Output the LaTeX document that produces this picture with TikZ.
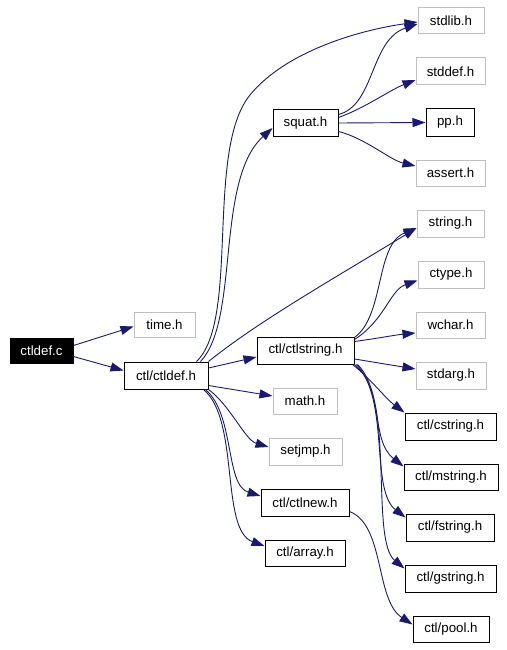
\documentclass[tikz,border=0pt]{standalone}
\usepackage{fontspec}
\setmainfont{Liberation Sans}
\usetikzlibrary{arrows.meta}
\definecolor{edgecol}{HTML}{191970}
\definecolor{graybox}{HTML}{BFBFBF}
\tikzset{
  box/.style={draw=black, line width=1pt, fill=white, inner sep=0pt, font=\fontsize{13.3}{15}\selectfont, text=black},
  gbox/.style={box, draw=graybox},
  rootbox/.style={box, fill=black, text=white},
  dep/.style={draw=edgecol, line width=0.9pt, -{Triangle[length=13pt,width=9pt]}, edgecol}
}
\begin{document}
\begin{tikzpicture}[x=1pt,y=-1pt]
\useasboundingbox (0,0) rectangle (506,650);
\node[rootbox, minimum width=63pt, minimum height=25pt] (ctldefc) at (41.5,350.5) {ctldef.c};
\node[gbox, minimum width=61pt, minimum height=25pt] (timeh) at (164.5,324.5) {time.h};
\node[box, minimum width=84pt, minimum height=27pt] (ctldefh) at (166,375.5) {ctl/ctldef.h};
\node[box, minimum width=65pt, minimum height=26pt] (squat) at (305.5,123) {squat.h};
\node[gbox, minimum width=66pt, minimum height=26pt] (stdlib) at (451,21) {stdlib.h};
\node[gbox, minimum width=69pt, minimum height=27pt] (stddef) at (450.5,71.5) {stddef.h};
\node[box, minimum width=48pt, minimum height=27pt] (pp) at (450,122.5) {pp.h};
\node[gbox, minimum width=69pt, minimum height=26pt] (assert) at (450.5,173) {assert.h};
\node[gbox, minimum width=67pt, minimum height=27pt] (string) at (450.5,223.5) {string.h};
\node[gbox, minimum width=66pt, minimum height=27pt] (ctype) at (451,274.5) {ctype.h};
\node[gbox, minimum width=69pt, minimum height=26pt] (wchar) at (450.5,325) {wchar.h};
\node[gbox, minimum width=70pt, minimum height=27pt] (stdarg) at (451,375.5) {stdarg.h};
\node[box, minimum width=97pt, minimum height=27pt] (ctlstring) at (305.5,350.5) {ctl/ctlstring.h};
\node[gbox, minimum width=64pt, minimum height=26pt] (math) at (305,401) {math.h};
\node[box, minimum width=91pt, minimum height=27pt] (cstring) at (450.5,426.5) {ctl/cstring.h};
\node[gbox, minimum width=73pt, minimum height=27pt] (setjmp) at (305.5,451.5) {setjmp.h};
\node[box, minimum width=94pt, minimum height=26pt] (mstring) at (451,477) {ctl/mstring.h};
\node[box, minimum width=88pt, minimum height=27pt] (ctlnew) at (305,502.5) {ctl/ctlnew.h};
\node[box, minimum width=88pt, minimum height=27pt] (fstring) at (450,527.5) {ctl/fstring.h};
\node[box, minimum width=80pt, minimum height=26pt] (array) at (305,553) {ctl/array.h};
\node[box, minimum width=91pt, minimum height=27pt] (gstring) at (450.5,578.5) {ctl/gstring.h};
\node[box, minimum width=76pt, minimum height=26pt] (pool) at (451,629) {ctl/pool.h};

% ctldef.c
\draw[dep] ([yshift=5]ctldefc.east) -- ([yshift=-2]timeh.west);
\draw[dep] ([yshift=-6]ctldefc.east) -- ([yshift=5]ctldefh.west);

% ctl/ctldef.h
\draw[dep] ([xshift=-12]ctldefh.north east) .. controls (240,320) and (205,150) .. (250,95)
  .. controls (286,51) and (360,30) .. ([yshift=-1]stdlib.west);
\draw[dep] ([xshift=-8]ctldefh.north east) .. controls (240,320) and (215,180) .. ([yshift=-5]squat.west);
\draw[dep] (ctldefh.north east) .. controls (260,320) and (340,275) .. ([yshift=-4.5]string.west);
\draw[dep] ([yshift=-6.5]ctldefh.north east) -- ([yshift=-6.5]ctlstring.west);
\draw[dep] ([yshift=4]ctldefh.south east) -- ([yshift=5]math.west);
\draw[dep] (ctldefh.south east) .. controls (230,405) and (245,440) .. ([yshift=4.5]setjmp.west);
\draw[dep] ([xshift=-3]ctldefh.south east) .. controls (235,415) and (225,485) .. ([yshift=6.5]ctlnew.west);
\draw[dep] ([xshift=-5]ctldefh.south east) .. controls (240,420) and (220,530) .. ([yshift=7]array.west);

% squat.h
\draw[dep] ([yshift=-5]squat.north east) .. controls (375,105) and (370,40) .. ([yshift=-3]stdlib.west);
\draw[dep] ([yshift=-8]squat.north east) .. controls (365,108) and (390,90) .. ([yshift=-8.5]stddef.west);
\draw[dep] (squat.east) -- (pp.west);
\draw[dep] ([yshift=5]squat.south east) .. controls (365,138) and (390,160) .. ([yshift=7]assert.west);

% ctl/ctlstring.h
\draw[dep] ([yshift=-1]ctlstring.north east) .. controls (385,315) and (375,245) .. ([yshift=-4.5]string.west);
\draw[dep] ([yshift=-3]ctlstring.north east) .. controls (385,320) and (390,290) .. ([yshift=-6]ctype.west);
\draw[dep] ([yshift=-5]ctlstring.north east) .. controls (380,338) and (395,335) .. ([yshift=-8]wchar.west);
\draw[dep] ([yshift=-8.5]ctlstring.east) -- ([yshift=6.5]stdarg.west);
\draw[dep] ([xshift=-2]ctlstring.south east) .. controls (370,378) and (385,398) .. (cstring.north west);
\draw[dep] (ctlstring.south east) .. controls (385,390) and (370,440) .. ([yshift=-3]mstring.north west);
\draw[dep] ([xshift=2]ctlstring.south east) .. controls (390,400) and (370,490) .. ([yshift=-4]fstring.north west);
\draw[dep] ([xshift=3]ctlstring.south east) .. controls (395,400) and (370,540) .. ([yshift=-4]gstring.north west);

% ctl/ctlnew.h
\draw[dep] ([yshift=5]ctlnew.south east) .. controls (385,525) and (375,600) .. ([yshift=-9]pool.north west);
\end{tikzpicture}
\end{document}
